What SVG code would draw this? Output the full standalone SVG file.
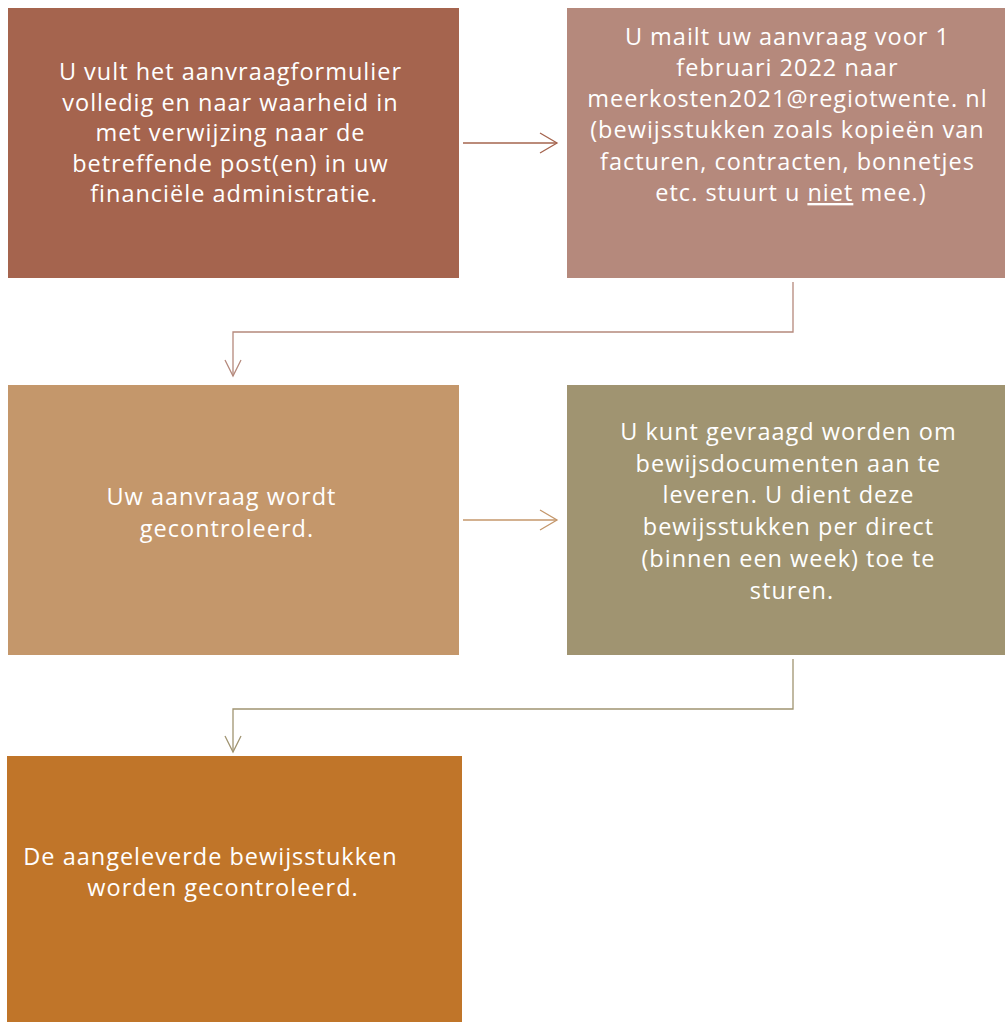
<svg xmlns="http://www.w3.org/2000/svg" width="1005" height="1022" viewBox="0 0 1005 1022">
<style>
  .lbl { font-family: "Open Sans", "Liberation Sans", sans-serif; font-size: 23.5px; letter-spacing: 1px; fill: #ffffff; text-anchor: middle; }
  .conn { fill: none; stroke-width: 1.3; }
</style>
<defs>
  <marker id="m1" markerUnits="userSpaceOnUse" markerWidth="20" markerHeight="22" viewBox="0 0 20 22" refX="18" refY="11" orient="auto">
    <path d="M1,1 L18,11 L1,21" fill="none" stroke="#A5644E" stroke-width="1.3"/>
  </marker>
  <marker id="m2" markerUnits="userSpaceOnUse" markerWidth="20" markerHeight="22" viewBox="0 0 20 22" refX="18" refY="11" orient="auto">
    <path d="M2,3 L18,11 L2,19" fill="none" stroke="#B5897C" stroke-width="1.3"/>
  </marker>
  <marker id="m3" markerUnits="userSpaceOnUse" markerWidth="20" markerHeight="22" viewBox="0 0 20 22" refX="18" refY="11" orient="auto">
    <path d="M1,1 L18,11 L1,21" fill="none" stroke="#C4976B" stroke-width="1.3"/>
  </marker>
  <marker id="m4" markerUnits="userSpaceOnUse" markerWidth="20" markerHeight="22" viewBox="0 0 20 22" refX="18" refY="11" orient="auto">
    <path d="M2,3 L18,11 L2,19" fill="none" stroke="#A09471" stroke-width="1.3"/>
  </marker>
</defs>
<rect width="1005" height="1022" fill="#ffffff"/>
<g id="connectors">
  <path class="conn" stroke="#A5644E" d="M463,143 L557,143" marker-end="url(#m1)"/>
  <path class="conn" stroke="#B5897C" d="M793,282 L793,332 L233,332 L233,376" marker-end="url(#m2)"/>
  <path class="conn" stroke="#C4976B" d="M463,520 L557,520" marker-end="url(#m3)"/>
  <path class="conn" stroke="#A09471" d="M793,659 L793,709 L233,709 L233,752" marker-end="url(#m4)"/>
</g>
<g id="node1">
  <rect x="8" y="8" width="451" height="270" fill="#A5644E"/>
  <text class="lbl">
    <tspan x="234" y="80">U vult het aanvraagformulier</tspan>
    <tspan x="234" y="111">volledig en naar waarheid in</tspan>
    <tspan x="234" y="141">met verwijzing naar de</tspan>
    <tspan x="234" y="172">betreffende post(en) in uw</tspan>
    <tspan x="234" y="202">financiële administratie.</tspan>
  </text>
</g>
<g id="node2">
  <rect x="567" y="8" width="445" height="270" fill="#B5897C"/>
  <text class="lbl">
    <tspan x="791" y="45">U mailt uw aanvraag voor 1</tspan>
    <tspan x="791" y="76">februari 2022 naar</tspan>
    <tspan x="791" y="107">meerkosten2021@regiotwente. nl</tspan>
    <tspan x="791" y="138">(bewijsstukken zoals kopieën van</tspan>
    <tspan x="791" y="170">facturen, contracten, bonnetjes</tspan>
    <tspan x="791" y="201">etc. stuurt u <tspan text-decoration="underline">niet</tspan> mee.)</tspan>
  </text>
</g>
<g id="node3">
  <rect x="8" y="385" width="451" height="270" fill="#C4976B"/>
  <text class="lbl">
    <tspan x="225" y="505">Uw aanvraag wordt</tspan>
    <tspan x="227" y="537">gecontroleerd.</tspan>
  </text>
</g>
<g id="node4">
  <rect x="567" y="385" width="445" height="270" fill="#A09471"/>
  <text class="lbl">
    <tspan x="792" y="440">U kunt gevraagd worden om</tspan>
    <tspan x="792" y="472">bewijsdocumenten aan te</tspan>
    <tspan x="792" y="503">leveren. U dient deze</tspan>
    <tspan x="792" y="535">bewijsstukken per direct</tspan>
    <tspan x="792" y="567">(binnen een week) toe te</tspan>
    <tspan x="792" y="599">sturen.</tspan>
  </text>
</g>
<g id="node5">
  <rect x="7" y="756" width="455" height="266" fill="#C07529"/>
  <text class="lbl">
    <tspan x="214" y="865">De aangeleverde bewijsstukken</tspan>
    <tspan x="223" y="896">worden gecontroleerd.</tspan>
  </text>
</g>
</svg>
